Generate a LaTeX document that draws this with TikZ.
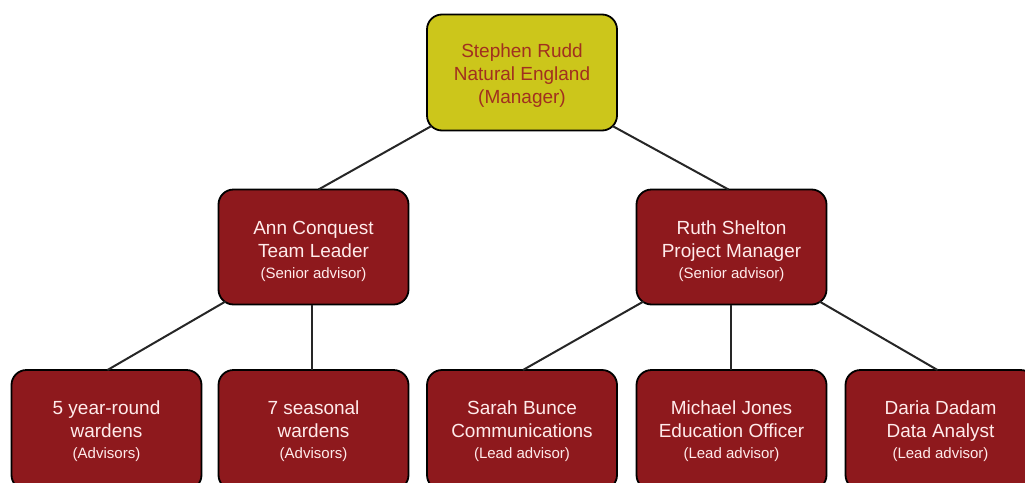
\documentclass[tikz,border=0pt]{standalone}
\usepackage{fontspec}
\setmainfont{Liberation Sans}
\usetikzlibrary{calc}
\definecolor{boxred}{HTML}{8E191D}
\definecolor{boxyellow}{HTML}{CCC61B}
\definecolor{toptext}{HTML}{A1301F}
\newcommand{\bigf}{\fontsize{19}{23}\selectfont}
\newcommand{\smallf}{\fontsize{15}{23}\selectfont}
\newcommand{\btxt}[2]{\raisebox{-#1}[\height][\depth]{\begin{tabular}{@{}c@{}}#2\end{tabular}}}
\tikzset{
  orgbox/.style={draw=black, line width=1.8pt, rounded corners=15pt,
    minimum width=190pt, inner sep=0pt, outer sep=0pt, font=\bigf},
  redbox/.style={orgbox, fill=boxred, text=white!92!red},
  topbox/.style={orgbox, fill=boxyellow, text=toptext},
  link/.style={draw=black!85, line width=2pt}
}
\begin{document}
\begin{tikzpicture}[x=1pt,y=-1pt]
\useasboundingbox (0,0) rectangle (1025,482);
\node[topbox, minimum height=116pt] (top) at (522,72.5)
  {\btxt{3pt}{Stephen Rudd\\ Natural England\\ (Manager)}};
\node[redbox, minimum height=115pt] (ann) at (313.5,247)
  {\btxt{5pt}{Ann Conquest\\ Team Leader\\[-2pt] \smallf (Senior advisor)}};
\node[redbox, minimum height=115pt] (ruth) at (731.5,247)
  {\btxt{5pt}{Ruth Shelton\\ Project Manager\\[-2pt] \smallf (Senior advisor)}};
\node[redbox, minimum height=120pt] (w5) at (106.5,430)
  {\btxt{1.5pt}{5 year-round\\ wardens\\[-2pt] \smallf (Advisors)}};
\node[redbox, minimum height=120pt] (w7) at (313.5,430)
  {\btxt{1.5pt}{7 seasonal\\ wardens\\[-2pt] \smallf (Advisors)}};
\node[redbox, minimum height=120pt] (sarah) at (522,430)
  {\btxt{1.5pt}{Sarah Bunce\\ Communications\\[-2pt] \smallf (Lead advisor)}};
\node[redbox, minimum height=120pt] (michael) at (731.5,430)
  {\btxt{1.5pt}{Michael Jones\\ Education Officer\\[-2pt] \smallf (Lead advisor)}};
\node[redbox, minimum height=120pt] (daria) at (940.5,430)
  {\btxt{1.5pt}{Daria Dadam\\ Data Analyst\\[-2pt] \smallf (Lead advisor)}};
\draw[link] ($(top.south west)+(4.5,-4.5)$) -- ($(ann.north)+(5,0)$);
\draw[link] ($(top.south east)+(-4.5,-4.5)$) -- ($(ruth.north)+(-3,0)$);
\draw[link] ($(ann.south west)+(7,-3)$) -- ($(w5.north)+(1,0)$);
\draw[link] ($(ann.south)+(-1.5,0)$) -- ($(w7.north)+(-1.5,0)$);
\draw[link] ($(ruth.south west)+(7,-3)$) -- ($(sarah.north)+(1,0)$);
\draw[link] ($(ruth.south)+(-0.5,0)$) -- ($(michael.north)+(-0.5,0)$);
\draw[link] ($(ruth.south east)+(-7,-3)$) -- ($(daria.north)+(-3,0)$);
\end{tikzpicture}
\end{document}
